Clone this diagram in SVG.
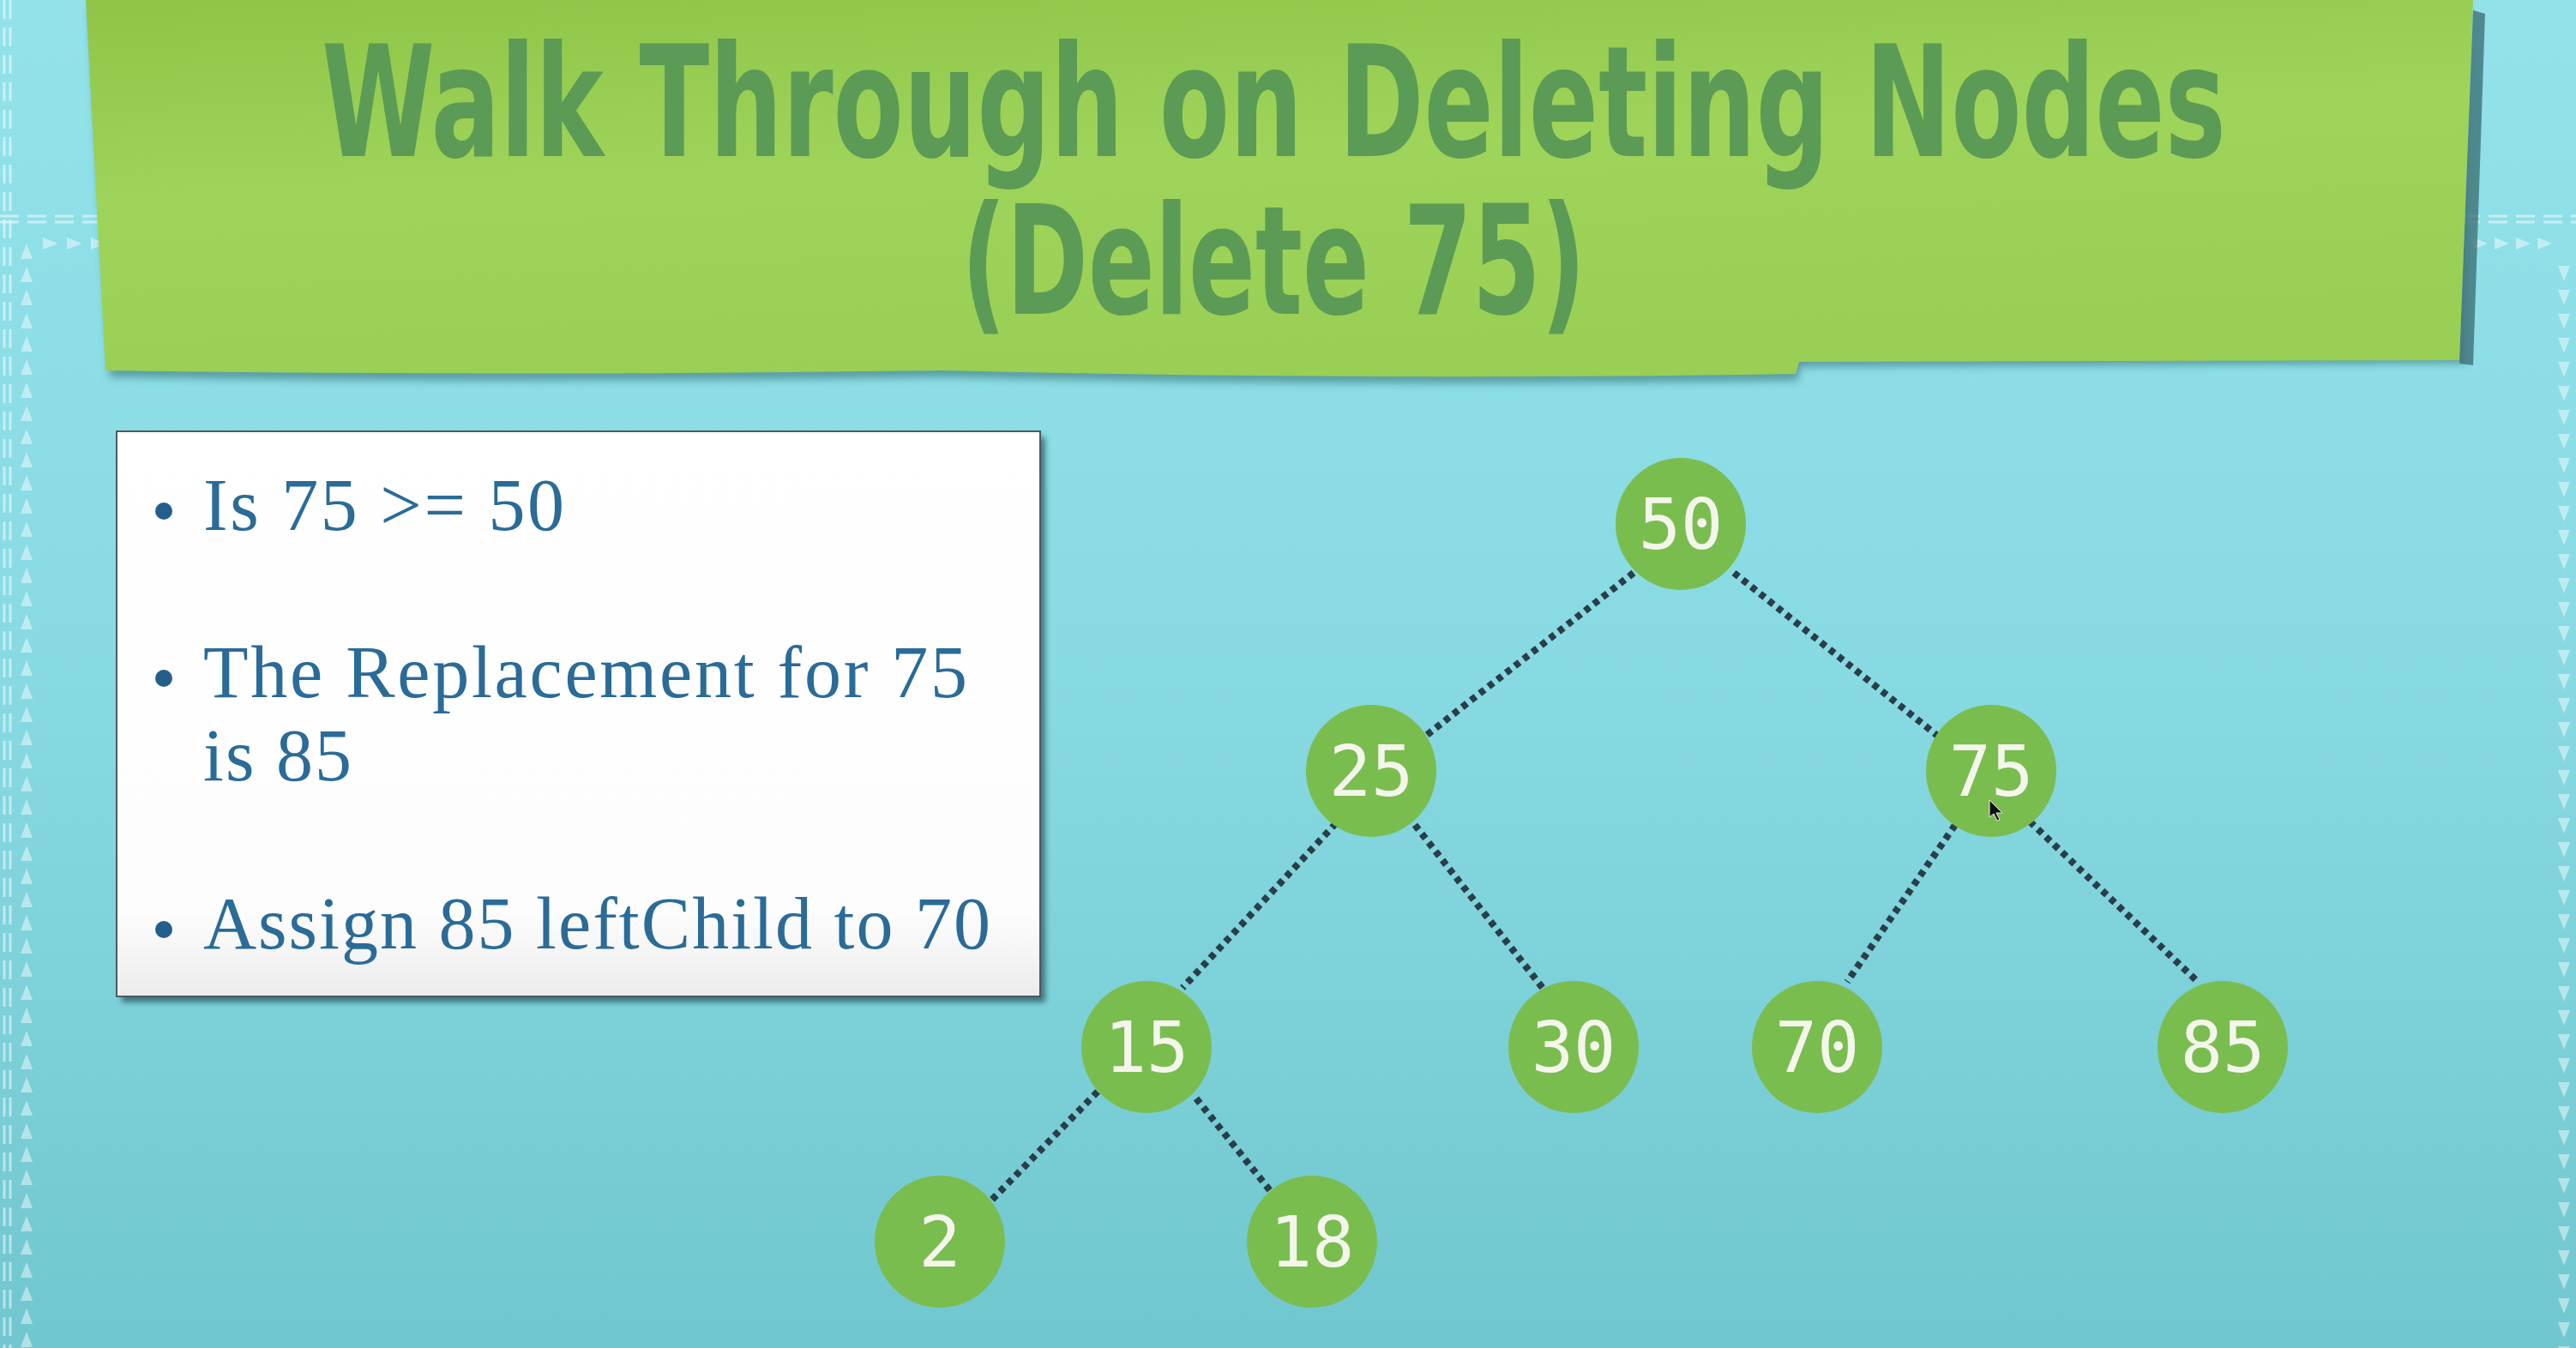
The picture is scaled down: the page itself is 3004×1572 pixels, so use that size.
<svg xmlns="http://www.w3.org/2000/svg" width="3004" height="1572" viewBox="0 0 3004 1572">
<defs>
  <linearGradient id="bg" x1="0" y1="0" x2="0" y2="1">
    <stop offset="0" stop-color="#93e2ea"/>
    <stop offset="0.5" stop-color="#88dae2"/>
    <stop offset="1" stop-color="#71c7cf"/>
  </linearGradient>
  <linearGradient id="banner" x1="0" y1="0" x2="0.3" y2="1">
    <stop offset="0" stop-color="#8ec548"/>
    <stop offset="0.5" stop-color="#9ed45a"/>
    <stop offset="1" stop-color="#99cf55"/>
  </linearGradient>
  <linearGradient id="box" x1="0" y1="0" x2="0" y2="1">
    <stop offset="0" stop-color="#ffffff"/>
    <stop offset="0.85" stop-color="#fdfdfd"/>
    <stop offset="1" stop-color="#ececec"/>
  </linearGradient>
  <filter id="blur6" x="-5%" y="-10%" width="110%" height="130%">
    <feGaussianBlur stdDeviation="5"/>
  </filter>
  <filter id="blur3" x="-5%" y="-5%" width="110%" height="110%">
    <feGaussianBlur stdDeviation="3"/>
  </filter>
  <pattern id="triUp" x="22" y="282" width="18" height="27" patternUnits="userSpaceOnUse">
    <polygon points="9,2 16,20 2,20" fill="#ffffff" fill-opacity="0.45"/>
  </pattern>
  <pattern id="triDown" x="2981" y="306" width="18" height="28" patternUnits="userSpaceOnUse">
    <polygon points="2,4 16,4 9,22" fill="#ffffff" fill-opacity="0.45"/>
  </pattern>
  <pattern id="triRight" x="46" y="275" width="28" height="18" patternUnits="userSpaceOnUse">
    <polygon points="4,2 22,9 4,16" fill="#ffffff" fill-opacity="0.45"/>
  </pattern>
  <pattern id="triRight2" x="2880" y="275" width="25" height="18" patternUnits="userSpaceOnUse">
    <polygon points="4,2 21,9 4,16" fill="#ffffff" fill-opacity="0.45"/>
  </pattern>
  <style>
    .dash { stroke:#ffffff; stroke-opacity:0.5; stroke-width:3; stroke-dasharray:22 10; fill:none; }
    .title { font-family:"DejaVu Sans Condensed","Liberation Sans Narrow","DejaVu Sans",sans-serif; font-weight:bold; fill:#5b9b55; }
    .bullet { fill:#245f8c; }
    .btxt { font-family:"Liberation Serif","DejaVu Serif",serif; font-size:86px; fill:#2a6b98; }
    .edge { stroke:#2a3e48; stroke-width:8; stroke-dasharray:7 6; fill:none; }
    .node ellipse { fill:#7abd4f; }
    .node text { font-family:"DejaVu Sans Mono","Liberation Mono",monospace; font-size:82px; fill:#f4f6ec; text-anchor:middle; }
  </style>
</defs>

<!-- background -->
<rect x="0" y="0" width="3004" height="1572" fill="url(#bg)"/>

<!-- decorative border -->
<g id="border-deco">
  <line class="dash" x1="5" y1="0" x2="5" y2="1572"/>
  <line class="dash" x1="12" y1="0" x2="12" y2="1572"/>
  <line class="dash" x1="0" y1="252" x2="120" y2="252"/>
  <line class="dash" x1="0" y1="259" x2="120" y2="259"/>
  <line class="dash" x1="2870" y1="252" x2="3004" y2="252"/>
  <line class="dash" x1="2870" y1="259" x2="3004" y2="259"/>
  <rect x="46" y="275" width="70" height="18" fill="url(#triRight)"/>
  <rect x="2880" y="275" width="100" height="18" fill="url(#triRight2)"/>
  <rect x="22" y="282" width="18" height="1290" fill="url(#triUp)"/>
  <rect x="2981" y="306" width="18" height="1266" fill="url(#triDown)"/>
</g>

<!-- title banner -->
<g id="title-banner">
  <path d="M104,8 L2880,8 L2874,424 L2100,428 L2096,444 Q1600,452 1100,440 Q600,448 128,440 Z" fill="#2d6a70" fill-opacity="0.55" filter="url(#blur6)"/>
  <polygon points="2884,12 2898,16 2884,426 2868,424" fill="#3f7378" fill-opacity="0.8"/>
  <path d="M100,0 L2884,0 L2868,420 L2098,422 L2094,436 Q1600,444 1100,432 Q600,439 123,432 Z" fill="url(#banner)"/>
  <text class="title" transform="translate(375,182) scale(0.743,1)" x="0" y="0" font-size="180" textLength="2989" lengthAdjust="spacingAndGlyphs">Walk Through on Deleting Nodes</text>
  <text class="title" transform="translate(1121,366) scale(0.74,1)" x="0" y="0" font-size="176" textLength="984" lengthAdjust="spacingAndGlyphs">(Delete 75)</text>
</g>

<!-- text box -->
<g id="info-box">
  <rect x="142" y="510" width="1077" height="659" fill="#254f58" fill-opacity="0.7" filter="url(#blur3)"/>
  <rect x="136" y="503" width="1077" height="659" fill="url(#box)" stroke="#4b5a60" stroke-width="2"/>
  <circle class="bullet" cx="191" cy="596" r="10"/>
  <text class="btxt" x="237" y="618" textLength="421">Is 75 &gt;= 50</text>
  <circle class="bullet" cx="191" cy="791" r="10"/>
  <text class="btxt" x="237" y="813" textLength="891">The Replacement for 75</text>
  <text class="btxt" x="237" y="910" textLength="173">is 85</text>
  <circle class="bullet" cx="191" cy="1084" r="10"/>
  <text class="btxt" x="237" y="1106" textLength="918">Assign 85 leftChild to 70</text>
</g>

<!-- connectors -->
<g id="connectors">
  <line class="edge" x1="1905" y1="668" x2="1664" y2="857"/>
  <line class="edge" x1="2022" y1="668" x2="2262" y2="860"/>
  <line class="edge" x1="1558" y1="960" x2="1379" y2="1152"/>
  <line class="edge" x1="1650" y1="962" x2="1802" y2="1156"/>
  <line class="edge" x1="2280" y1="962" x2="2154" y2="1145"/>
  <line class="edge" x1="2367" y1="958" x2="2563" y2="1145"/>
  <line class="edge" x1="1280" y1="1273" x2="1154" y2="1402"/>
  <line class="edge" x1="1395" y1="1281" x2="1484" y2="1392"/>
</g>

<!-- nodes -->
<g id="node-50" class="node"><ellipse cx="1960" cy="611" rx="76" ry="77"/><text x="1960" y="640">50</text></g>
<g id="node-25" class="node"><ellipse cx="1599" cy="899" rx="76" ry="77"/><text x="1599" y="928">25</text></g>
<g id="node-75" class="node"><ellipse cx="2322" cy="899" rx="76" ry="77"/><text x="2322" y="928">75</text></g>
<g id="node-15" class="node"><ellipse cx="1337" cy="1221" rx="76" ry="77"/><text x="1337" y="1250">15</text></g>
<g id="node-30" class="node"><ellipse cx="1835" cy="1221" rx="76" ry="77"/><text x="1835" y="1250">30</text></g>
<g id="node-70" class="node"><ellipse cx="2119" cy="1221" rx="76" ry="77"/><text x="2119" y="1250">70</text></g>
<g id="node-85" class="node"><ellipse cx="2592" cy="1221" rx="76" ry="77"/><text x="2592" y="1250">85</text></g>
<g id="node-2" class="node"><ellipse cx="1096" cy="1448" rx="76" ry="77"/><text x="1096" y="1477">2</text></g>
<g id="node-18" class="node"><ellipse cx="1530" cy="1448" rx="76" ry="77"/><text x="1530" y="1477">18</text></g>

<!-- mouse cursor -->
<g id="cursor">
  <polygon points="2320,933 2320,953 2325,949 2329,957 2332,956 2328,948 2335,948" fill="#111" stroke="#f0f0f0" stroke-width="1"/>
</g>
</svg>
